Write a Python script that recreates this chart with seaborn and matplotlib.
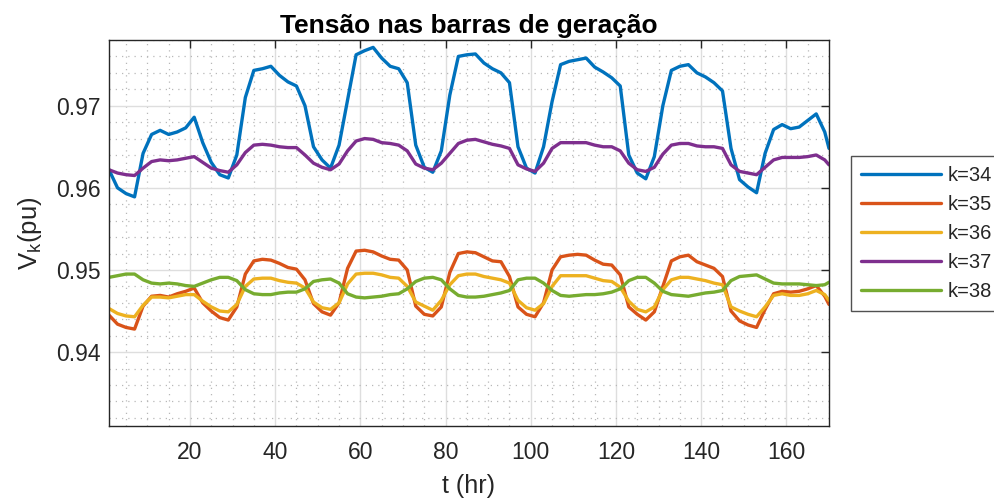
import numpy as np
import pandas as pd
import matplotlib
matplotlib.use("Agg")
import matplotlib.pyplot as plt
import seaborn as sns
from matplotlib.ticker import MultipleLocator

# time samples (hr), every 2 hours plus the last hour
hours = list(range(1, 170, 2)) + [170]

v34 = [0.9622, 0.9600, 0.9593, 0.9589, 0.9642, 0.9665, 0.9670, 0.9665, 0.9668, 0.9673,
       0.9686, 0.9655, 0.9631, 0.9616, 0.9612, 0.9640, 0.9710, 0.9743, 0.9745, 0.9748,
       0.9737, 0.9729, 0.9724, 0.9700, 0.9650, 0.9634, 0.9624, 0.9652, 0.9707, 0.9762,
       0.9767, 0.9771, 0.9758, 0.9748, 0.9745, 0.9728, 0.9652, 0.9625, 0.9619, 0.9645,
       0.9713, 0.9760, 0.9762, 0.9763, 0.9752, 0.9745, 0.9740, 0.9728, 0.9650, 0.9624,
       0.9618, 0.9650, 0.9705, 0.9750, 0.9754, 0.9756, 0.9758, 0.9747, 0.9741, 0.9734,
       0.9724, 0.9640, 0.9618, 0.9611, 0.9638, 0.9700, 0.9743, 0.9748, 0.9750, 0.9740,
       0.9735, 0.9728, 0.9718, 0.9648, 0.9610, 0.9601, 0.9594, 0.9642, 0.9671, 0.9677,
       0.9672, 0.9674, 0.9682, 0.9690, 0.9668, 0.9648]

v35 = [0.9445, 0.9434, 0.9430, 0.9428, 0.9456, 0.9468, 0.9469, 0.9467, 0.9471, 0.9474,
       0.9478, 0.9460, 0.9450, 0.9442, 0.9439, 0.9455, 0.9495, 0.9511, 0.9513, 0.9512,
       0.9508, 0.9503, 0.9501, 0.9488, 0.9459, 0.9449, 0.9445, 0.9460, 0.9502, 0.9523,
       0.9524, 0.9522, 0.9517, 0.9513, 0.9512, 0.9500, 0.9456, 0.9446, 0.9444, 0.9455,
       0.9497, 0.9520, 0.9522, 0.9521, 0.9516, 0.9511, 0.9510, 0.9492, 0.9455, 0.9446,
       0.9443, 0.9460, 0.9500, 0.9516, 0.9518, 0.9519, 0.9518, 0.9512, 0.9507, 0.9506,
       0.9494, 0.9455, 0.9446, 0.9439, 0.9449, 0.9480, 0.9511, 0.9516, 0.9518, 0.9510,
       0.9506, 0.9502, 0.9492, 0.9450, 0.9438, 0.9433, 0.9430, 0.9452, 0.9471, 0.9474,
       0.9473, 0.9474, 0.9477, 0.9481, 0.9468, 0.9458]

v36 = [0.9453, 0.9447, 0.9444, 0.9443, 0.9457, 0.9467, 0.9467, 0.9466, 0.9468, 0.9470,
       0.9470, 0.9462, 0.9455, 0.9450, 0.9449, 0.9458, 0.9480, 0.9489, 0.9490, 0.9490,
       0.9487, 0.9485, 0.9484, 0.9478, 0.9461, 0.9454, 0.9452, 0.9460, 0.9483, 0.9495,
       0.9496, 0.9496, 0.9494, 0.9491, 0.9490, 0.9480, 0.9461, 0.9456, 0.9451, 0.9463,
       0.9482, 0.9493, 0.9495, 0.9495, 0.9492, 0.9490, 0.9488, 0.9484, 0.9463, 0.9454,
       0.9451, 0.9459, 0.9480, 0.9493, 0.9493, 0.9493, 0.9493, 0.9490, 0.9487, 0.9486,
       0.9479, 0.9462, 0.9452, 0.9449, 0.9455, 0.9476, 0.9488, 0.9491, 0.9491, 0.9489,
       0.9487, 0.9484, 0.9482, 0.9455, 0.9450, 0.9446, 0.9443, 0.9455, 0.9469, 0.9471,
       0.9469, 0.9469, 0.9471, 0.9475, 0.9470, 0.9463]

v37 = [0.9622, 0.9618, 0.9616, 0.9615, 0.9624, 0.9632, 0.9634, 0.9633, 0.9634, 0.9636,
       0.9638, 0.9631, 0.9624, 0.9621, 0.9619, 0.9628, 0.9643, 0.9652, 0.9653, 0.9652,
       0.9650, 0.9649, 0.9649, 0.9640, 0.9630, 0.9625, 0.9622, 0.9629, 0.9645, 0.9657,
       0.9660, 0.9659, 0.9655, 0.9654, 0.9652, 0.9645, 0.9629, 0.9624, 0.9622, 0.9630,
       0.9642, 0.9654, 0.9658, 0.9659, 0.9656, 0.9653, 0.9651, 0.9648, 0.9628, 0.9623,
       0.9620, 0.9630, 0.9648, 0.9655, 0.9655, 0.9655, 0.9655, 0.9652, 0.9650, 0.9650,
       0.9645, 0.9630, 0.9622, 0.9620, 0.9625, 0.9641, 0.9652, 0.9654, 0.9654, 0.9651,
       0.9650, 0.9650, 0.9648, 0.9628, 0.9620, 0.9618, 0.9616, 0.9625, 0.9634, 0.9637,
       0.9637, 0.9637, 0.9638, 0.9640, 0.9634, 0.9628]

v38 = [0.9491, 0.9493, 0.9495, 0.9495, 0.9488, 0.9484, 0.9483, 0.9484, 0.9483, 0.9481,
       0.9480, 0.9484, 0.9488, 0.9491, 0.9491, 0.9487, 0.9476, 0.9471, 0.9470, 0.9470,
       0.9472, 0.9473, 0.9473, 0.9477, 0.9486, 0.9488, 0.9489, 0.9484, 0.9471, 0.9467,
       0.9466, 0.9467, 0.9468, 0.9470, 0.9471, 0.9477, 0.9486, 0.9490, 0.9491, 0.9488,
       0.9477, 0.9469, 0.9467, 0.9467, 0.9468, 0.9470, 0.9472, 0.9475, 0.9488, 0.9490,
       0.9490, 0.9484, 0.9475, 0.9469, 0.9468, 0.9469, 0.9470, 0.9470, 0.9471, 0.9473,
       0.9477, 0.9487, 0.9491, 0.9491, 0.9484, 0.9474, 0.9470, 0.9469, 0.9468, 0.9470,
       0.9472, 0.9473, 0.9475, 0.9487, 0.9492, 0.9493, 0.9494, 0.9489, 0.9484, 0.9483,
       0.9483, 0.9483, 0.9482, 0.9481, 0.9482, 0.9485]

labels = ["k=34", "k=35", "k=36", "k=37", "k=38"]
colors = ["#0072BD", "#D95319", "#EDB120", "#7E2F8E", "#77AC30"]

df = pd.concat([
    pd.DataFrame({"t": hours, "V": v, "bar": lab})
    for v, lab in zip([v34, v35, v36, v37, v38], labels)
])

sns.set_style("white")
plt.rcParams["font.family"] = ["Liberation Sans", "DejaVu Sans"]
plt.rcParams["mathtext.fontset"] = "custom"
plt.rcParams["mathtext.rm"] = "Liberation Sans"
plt.rcParams["mathtext.it"] = "Liberation Sans"

fig = plt.figure(figsize=(9.94, 5.03), dpi=100)
ax = fig.add_axes([109/994, 1 - 426/503, 720/994, 386/503])

sns.lineplot(data=df, x="t", y="V", hue="bar", palette=colors, linewidth=2.4, ax=ax)

ax.set_xlim(1, 170)
ax.set_ylim(0.931, 0.978)
ax.xaxis.set_major_locator(MultipleLocator(20))
ax.xaxis.set_minor_locator(MultipleLocator(5))
ax.yaxis.set_major_locator(MultipleLocator(0.01))
ax.yaxis.set_minor_locator(MultipleLocator(0.002))
ax.set_yticks([0.94, 0.95, 0.96, 0.97])
ax.set_yticklabels(["0.94", "0.95", "0.96", "0.97"])

ax.grid(which="major", color="#dedede", linewidth=1.0)
ax.grid(which="minor", color="#b8b8b8", linestyle=(0, (1, 4)), linewidth=0.9)
ax.set_axisbelow(True)
ax.tick_params(which="major", direction="in", length=6, width=1, colors="#262626",
               labelsize=16.5, top=True, right=True, pad=6)
ax.tick_params(axis="x", which="major", pad=11)
ax.tick_params(which="minor", length=0)
for s in ax.spines.values():
    s.set_color("#262626")
    s.set_linewidth(1.0)

ax.set_title("Tensão nas barras de geração", fontsize=19, fontweight="bold", pad=5,
             color="black")
ax.set_xlabel("t (hr)", fontsize=18, color="#262626", labelpad=7)
ax.set_ylabel(r"V$_\mathrm{k}$(pu)", fontsize=18.5, color="#262626", labelpad=9)

leg = ax.legend(loc="upper left", bbox_to_anchor=(1.03, 0.70), borderaxespad=0,
                fontsize=14.5, frameon=True, fancybox=False, handlelength=4.0,
                handletextpad=0.3, labelspacing=0.5, borderpad=0.5)
leg.get_frame().set_edgecolor("#262626")
leg.get_frame().set_linewidth(1.0)
for line in leg.get_lines():
    line.set_linewidth(2.4)

fig.savefig("out.png", dpi=100)
